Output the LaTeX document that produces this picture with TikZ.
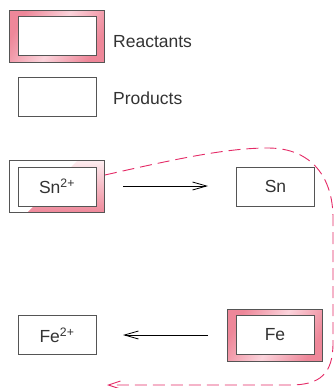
\documentclass[tikz,border=0pt]{standalone}
\usepackage{fontspec}
\setmainfont{Liberation Sans}
\usetikzlibrary{arrows.meta,calc}
\definecolor{pinkD}{HTML}{EE8799}
\definecolor{pinkL}{HTML}{FBD3DB}
\definecolor{mag}{HTML}{E42A66}
\definecolor{edge}{HTML}{555555}
\tikzset{
  innerbox/.style={draw=edge, line width=0.9pt, fill=white, minimum width=78pt, minimum height=39pt, inner sep=0pt, font=\fontsize{17.5}{20}\selectfont, text=black!80},
  outerbox/.style={draw=edge, line width=0.9pt, minimum width=95pt, minimum height=52pt, inner sep=0pt},
  reactfill/.style={outerbox, left color=pinkD, right color=pinkD, middle color=pinkL, shading angle=60},
  lbl/.style={anchor=base west, inner sep=0pt, font=\fontsize{17.5}{20}\selectfont, text=black!80},
  rxn/.style={line width=0.8pt, -{Straight Barb[length=14pt,width=8pt,line width=0.8pt]}},
  transfer/.style={mag, line width=0.9pt, dash pattern=on 12pt off 6pt, -{Straight Barb[length=12pt,width=8pt,line width=0.9pt]}}
}
\begin{document}
\begin{tikzpicture}[x=1pt,y=-1pt]
\useasboundingbox (0,0) rectangle (335,388);
% legend
\node[reactfill] (legR) at (56.5,36) {};
\node[innerbox] (legRi) at (57,36) {};
\node[lbl] (legRt) at (113,47) {Reactants};
\node[innerbox] (legP) at (57,97) {};
\node[lbl] (legPt) at (113,104) {Products};
% Sn2+ (partially shaded outer)
\node[outerbox, fill=white] (snout) at (57,186.5) {};
\begin{scope}
  \clip (snout.south west) rectangle (snout.north east);
  \shade[left color=pinkL!40!white, right color=pinkD, shading angle=0]
    (78,160) -- (104,160) -- (104,213) -- (27,213) -- cycle;
\end{scope}
\node[outerbox] (snoutb) at (57,186.5) {};
\node[innerbox] (sn2) at (57,186.5) {Sn\textsuperscript{2+}};
\node[innerbox] (sn) at (275.5,186.5) {Sn};
\coordinate (a1) at (123,186);
\coordinate (a2) at (208,186);
\draw[rxn] (a1) -- (a2);
% Fe
\node[innerbox] (fe2) at (57,335) {Fe\textsuperscript{2+}};
\node[reactfill] (feout) at (275,335) {};
\node[innerbox] (fe) at (275,335) {Fe};
\coordinate (b1) at (208,335);
\coordinate (b2) at (123,335);
\draw[rxn] (b1) -- (b2);
% electron transfer
\coordinate (e1) at (107,385);
\draw[transfer] ([yshift=11.5pt]snout.east) .. controls (180,158) and (228,148) .. (268,148)
  .. controls (312,148) and (333,178) .. (333,218) -- (333,343)
  .. controls (333,374) and (320,385) .. (290,385) -- (e1);
\end{tikzpicture}
\end{document}
